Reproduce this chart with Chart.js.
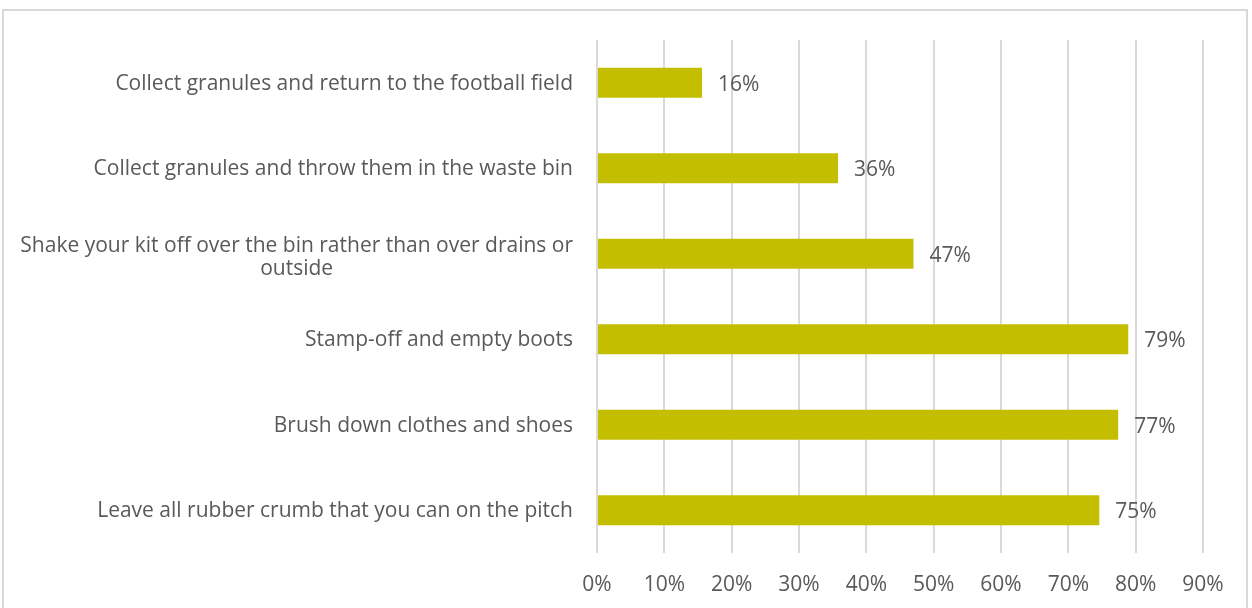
<!DOCTYPE html>
<html>
<head>
<meta charset="utf-8">
<script src="https://cdn.jsdelivr.net/npm/chart.js@4/dist/chart.umd.min.js"></script>
<style>
  html, body { margin: 0; padding: 0; background: #ffffff; overflow: hidden; }
  #wrap { position: relative; width: 1252px; height: 608px; }
  #frame { position: absolute; left: 2px; top: 9px; width: 1246px; height: 700px;
           border: 2px solid #d9d9d9; box-sizing: border-box; pointer-events: none; }
  canvas { position: absolute; left: 0; top: 0; }
</style>
</head>
<body>
<div id="wrap">
  <canvas id="chart" width="1252" height="608"></canvas>
  <div id="frame"></div>
</div>
<script>
// Survey answers: what players do to keep rubber crumb on the pitch
const categories = [
  ["Collect granules and return to the football field"],
  ["Collect granules and throw them in the waste bin"],
  ["Shake your kit off over the bin rather than over drains or", "outside"],
  ["Stamp-off and empty boots"],
  ["Brush down clothes and shoes"],
  ["Leave all rubber crumb that you can on the pitch"]
];
const shares = [15.6, 35.8, 47.0, 78.9, 77.4, 74.6];   // percent of respondents
const xTicks = [0, 10, 20, 30, 40, 50, 60, 70, 80, 90];

const TEXT = '#595959';
const FONT = '"Open Sans", "Noto Sans", sans-serif';
const SIZE = 21;
const pct = v => Math.round(v) + '%';

// Category labels: right-aligned block, wrapped lines centred on the widest line
const categoryLabels = {
  id: 'categoryLabels',
  afterDraw(chart) {
    const { ctx, chartArea } = chart;
    const y = chart.scales.y;
    const right = chartArea.left - 24;
    const lh = 22.5;
    ctx.save();
    ctx.font = SIZE + 'px ' + FONT;
    ctx.fillStyle = TEXT;
    ctx.textBaseline = 'middle';
    ctx.textAlign = 'center';
    categories.forEach((lines, i) => {
      const cy = y.getPixelForValue(i) + 1;
      const w = Math.max(...lines.map(l => ctx.measureText(l).width));
      const cx = right - w / 2;
      const top = cy - (lines.length - 1) * lh / 2 + (lines.length > 1 ? 3 : 0);
      lines.forEach((l, k) => ctx.fillText(l, cx, top + k * lh));
    });
    ctx.restore();
  }
};

// Value labels at the end of each bar
const valueLabels = {
  id: 'valueLabels',
  afterDatasetsDraw(chart) {
    const { ctx } = chart;
    const meta = chart.getDatasetMeta(0);
    ctx.save();
    ctx.font = SIZE + 'px ' + FONT;
    ctx.fillStyle = TEXT;
    ctx.textAlign = 'left';
    ctx.textBaseline = 'middle';
    meta.data.forEach((bar, i) => {
      ctx.fillText(pct(shares[i]), bar.x + 16, bar.y + 2);
    });
    ctx.restore();
  }
};

new Chart(document.getElementById('chart'), {
  type: 'bar',
  data: {
    labels: categories.map(c => c.join(' ')),
    datasets: [{
      data: shares,
      backgroundColor: '#c3bf00',
      borderWidth: 0,
      categoryPercentage: 1,
      barPercentage: 0.35
    }]
  },
  options: {
    indexAxis: 'y',
    responsive: false,
    animation: false,
    layout: { padding: { top: 40, right: 49, bottom: 0, left: 0 } },
    plugins: { legend: { display: false }, tooltip: { enabled: false } },
    scales: {
      x: {
        min: 0,
        max: 90,
        afterBuildTicks: s => { s.ticks = xTicks.map(v => ({ value: v })); },
        afterFit: s => { s.height = 55; },
        grid: { color: '#d9d9d9', lineWidth: 2, drawTicks: false },
        border: { display: false },
        ticks: {
          padding: 19,
          color: TEXT,
          font: { family: FONT, size: SIZE },
          callback: v => v + '%'
        }
      },
      y: {
        afterFit: s => { s.width = 597; },
        grid: { display: false },
        border: { display: false },
        ticks: { display: false }
      }
    }
  },
  plugins: [categoryLabels, valueLabels]
});
</script>
</body>
</html>
